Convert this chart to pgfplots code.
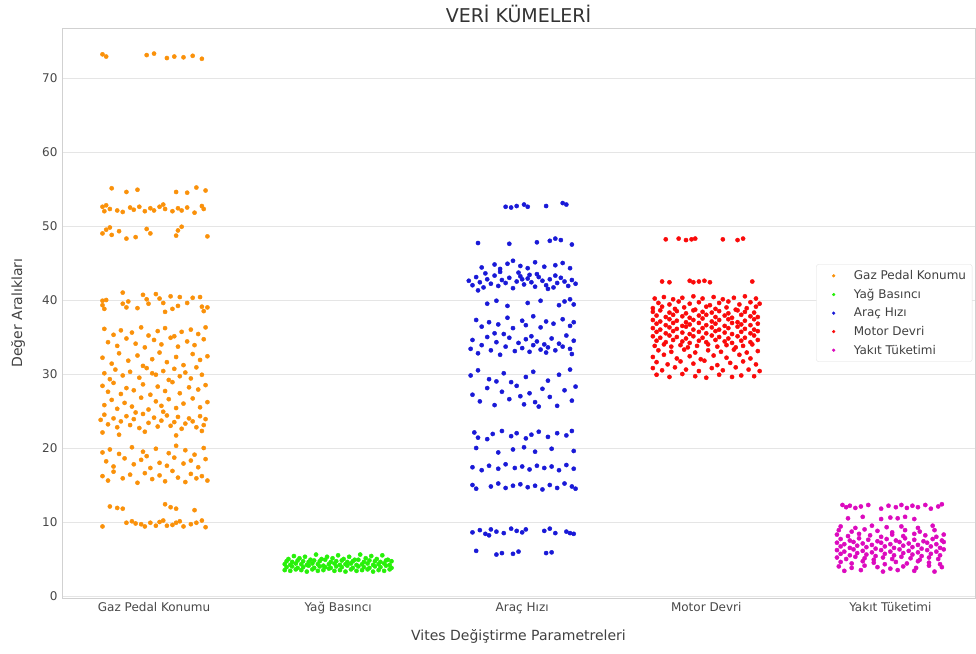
\documentclass[border=0pt]{standalone}
\usepackage{fontspec}
\setmainfont{DejaVu Sans}
\usepackage{pgfplots}
\pgfplotsset{compat=1.18}
\definecolor{cGaz}{RGB}{250,145,10}
\definecolor{cYag}{RGB}{40,240,10}
\definecolor{cArac}{RGB}{25,25,215}
\definecolor{cMotor}{RGB}{250,10,10}
\definecolor{cYakit}{RGB}{220,10,190}
\begin{document}
\begin{tikzpicture}
\begin{axis}[
  set layers=standard,
  scale only axis, width=913pt, height=570pt,
  at={(0pt,0pt)}, anchor=south west,
  xmin=-0.5, xmax=4.46, ymin=-0.27, ymax=76.76,
  xtick={0,1,2,3,4},
  xticklabels={Gaz Pedal Konumu, Yağ Basıncı, Araç Hızı, Motor Devri, Yakıt Tüketimi},
  ytick={0,10,20,30,40,50,60,70},
  ymajorgrids, xmajorgrids=false,
  grid style={draw=black!10, line width=0.8pt},
  axis line style={draw=black!18, line width=0.8pt},
  major tick length=0pt,
  /pgf/number format/assume math mode=true,
  tick label style={font=\fontsize{12}{14}\selectfont, text=black!72},
  xticklabel style={yshift=-1pt},
  yticklabel style={xshift=-1pt},
  xlabel={Vites Değiştirme Parametreleri},
  ylabel={Değer Aralıkları},
  every axis x label/.style={at={(axis description cs:0.5,-0.0667)}, anchor=center, font=\fontsize{14}{16}\selectfont, text=black!75},
  every axis y label/.style={at={(axis description cs:-0.0482,0.5)}, anchor=center, rotate=90, font=\fontsize{14}{16}\selectfont, text=black!75},
  title={VERİ KÜMELERİ},
  title style={at={(axis description cs:0.5,1.0145)}, anchor=center, font=\fontsize{19}{22}\selectfont, text=black!80},
  legend style={at={(0.997,0.5)}, anchor=east, draw=black!12, rounded corners=2pt,
    font=\fontsize{12}{14}\selectfont, text=black!75, fill=white,
    row sep=4pt, inner sep=4pt, cells={anchor=west}},
  legend image code/.code={\path (0pt,0pt) (31pt,0pt); \fill[#1] (13pt,0pt) circle (1.4pt);},
]
% Gaz Pedal Konumu
\addplot[only marks, mark=*, mark size=2.1pt, color=cGaz, fill=cGaz] coordinates {
(-0.28,73.2)(-0.26,72.9)(-0.04,73.1)(0.0,73.3)(0.07,72.7)(0.11,72.9)(0.16,72.8)(0.21,73.0)(0.26,72.6)
(-0.23,55.1)(-0.15,54.6)(-0.09,54.9)(0.12,54.6)(0.18,54.5)(0.23,55.2)(0.28,54.8)
(-0.28,52.6)(-0.27,52.0)(-0.24,52.3)(-0.20,52.1)(-0.17,51.9)(-0.13,52.5)(-0.11,52.2)(-0.08,52.6)(-0.05,52.0)(-0.02,52.4)(0.0,52.1)(0.03,52.6)(0.06,52.3)(0.10,52.0)(0.13,52.4)(0.15,52.1)(0.18,52.5)(0.22,51.8)(0.26,52.7)(0.27,52.3)(-0.26,52.8)(0.05,52.9)
(-0.28,49.0)(-0.26,49.5)(-0.23,48.8)(-0.19,49.3)(-0.15,48.3)(-0.10,48.5)(-0.04,49.6)(-0.02,49.0)(0.12,48.7)(0.13,49.4)(0.15,49.9)(0.29,48.6)(-0.24,49.8)
(-0.28,39.9)(-0.28,39.3)(-0.27,38.8)(-0.26,40.0)(-0.17,41.0)(-0.17,39.5)(-0.15,39.0)(-0.14,39.8)(-0.09,38.9)(-0.04,40.1)(-0.03,39.5)(0.01,40.8)(0.03,40.2)(0.05,39.6)(0.06,38.4)(0.09,40.5)(0.13,39.2)(0.14,40.4)(0.18,39.6)(0.21,40.3)(0.25,40.4)(0.26,39.1)(0.27,38.5)(0.29,39.0)(-0.06,40.7)(0.10,38.8)
(-0.27,36.1)(-0.22,35.3)(-0.18,35.9)(-0.12,35.6)(-0.07,36.3)(-0.03,35.2)(0.02,35.8)(0.06,36.2)(0.11,35.1)(0.15,35.7)(0.20,36.0)(0.24,35.4)(0.28,36.3)
(-0.25,34.3)(-0.20,33.8)(-0.15,34.8)(-0.10,34.1)(-0.05,33.6)(0.00,34.6)(0.04,34.0)(0.09,34.9)(0.13,33.7)(0.18,34.4)(0.22,33.9)(0.27,34.7)
(-0.28,32.2)(-0.23,31.4)(-0.19,32.8)(-0.14,31.8)(-0.09,32.5)(-0.06,31.1)(-0.01,32.0)(0.03,32.9)(0.07,31.6)(0.12,32.3)(0.16,31.2)(0.21,32.7)(0.25,31.9)(0.29,32.4)
(-0.27,30.1)(-0.24,29.3)(-0.21,30.6)(-0.17,29.8)(-0.13,30.3)(-0.08,29.5)(-0.04,30.8)(0.01,29.9)(0.05,30.4)(0.08,29.2)(0.11,30.7)(0.14,29.7)(0.17,30.2)(0.20,29.4)(0.23,30.9)(0.26,29.9)(-0.01,30.1)
(-0.28,28.4)(-0.25,27.6)(-0.22,28.8)(-0.18,27.3)(-0.15,28.1)(-0.11,27.8)(-0.06,28.6)(-0.02,27.2)(0.02,28.3)(0.06,27.7)(0.10,28.9)(0.14,27.4)(0.19,28.2)(0.24,27.9)(0.28,28.5)
(-0.27,25.8)(-0.23,26.5)(-0.20,25.3)(-0.16,26.1)(-0.12,25.6)(-0.07,26.8)(-0.03,25.2)(0.01,26.3)(0.04,25.7)(0.08,26.6)(0.12,25.4)(0.16,26.0)(0.21,26.7)(0.25,25.5)(0.29,26.2)
(-0.29,23.8)(-0.27,24.5)(-0.25,23.2)(-0.22,24.0)(-0.20,22.8)(-0.18,23.6)(-0.15,24.3)(-0.13,23.1)(-0.11,23.9)(-0.08,22.7)(-0.06,24.6)(-0.03,23.4)(0.00,24.1)(0.02,22.9)(0.04,23.7)(0.07,24.4)(0.09,23.0)(0.11,23.5)(0.13,24.2)(0.15,22.6)(0.17,23.3)(0.19,24.0)(0.21,23.6)(0.23,22.8)(0.25,24.3)(0.27,23.1)(0.28,23.9)(-0.10,24.8)(0.05,24.9)
(-0.28,22.1)(-0.19,21.8)(-0.05,22.2)(0.12,21.7)(0.26,22.3)
(-0.24,19.8)(-0.19,19.2)(-0.12,20.1)(-0.06,19.5)(0.01,19.9)(0.08,19.3)(0.12,20.3)(0.17,19.7)(0.22,19.1)(0.27,20.0)(-0.28,19.4)
(-0.26,18.2)(-0.22,17.5)(-0.16,18.6)(-0.11,17.8)(-0.07,18.4)(-0.02,17.3)(0.03,18.0)(0.07,17.6)(0.11,18.7)(0.16,17.9)(0.20,18.3)(0.24,17.4)(0.28,18.5)(-0.04,18.9)
(-0.28,16.2)(-0.25,15.6)(-0.22,16.8)(-0.17,15.9)(-0.13,16.4)(-0.09,15.3)(-0.05,16.6)(-0.01,15.8)(0.03,16.3)(0.06,15.5)(0.10,16.9)(0.13,16.0)(0.17,15.4)(0.20,16.5)(0.23,15.9)(0.26,16.2)(0.29,15.6)
(-0.24,12.1)(-0.20,11.9)(-0.17,11.8)(0.06,12.4)(0.09,12.0)(0.12,11.8)(0.22,11.6)
(-0.28,9.4)(-0.12,10.1)(-0.10,9.8)(-0.07,9.7)(-0.05,9.4)(-0.02,9.9)(0.01,9.5)(0.03,10.0)(0.05,10.2)(0.10,9.6)(0.12,9.9)(0.14,10.1)(0.16,9.4)(0.20,9.7)(0.23,9.9)(0.26,10.2)(0.28,9.3)(-0.15,9.9)(0.07,9.5)
};
\addlegendentry{Gaz Pedal Konumu}
% Yag Basinci
\addplot[only marks, mark=*, mark size=2.1pt, color=cYag, fill=cYag] coordinates {
(0.71,3.5)(0.74,3.4)(0.77,3.6)(0.80,3.5)(0.83,3.3)(0.86,3.6)(0.89,3.4)(0.92,3.5)(0.95,3.7)(0.98,3.4)(1.01,3.5)(1.04,3.3)(1.07,3.6)(1.10,3.4)(1.13,3.5)(1.16,3.6)(1.19,3.3)(1.22,3.5)(1.25,3.4)(1.28,3.6)
(0.72,3.9)(0.75,4.0)(0.78,3.8)(0.81,3.9)(0.84,4.1)(0.87,3.8)(0.90,4.0)(0.93,3.9)(0.96,3.8)(0.99,4.0)(1.02,3.9)(1.05,4.1)(1.08,3.8)(1.11,4.0)(1.14,3.9)(1.17,3.8)(1.20,4.0)(1.23,3.9)(1.26,4.1)(1.29,3.8)
(0.71,4.3)(0.74,4.2)(0.77,4.4)(0.80,4.3)(0.83,4.2)(0.86,4.4)(0.89,4.3)(0.92,4.1)(0.95,4.3)(0.98,4.4)(1.01,4.2)(1.04,4.3)(1.07,4.4)(1.10,4.2)(1.13,4.3)(1.16,4.4)(1.19,4.2)(1.22,4.3)(1.25,4.4)(1.28,4.2)
(0.72,4.7)(0.75,4.6)(0.78,4.8)(0.81,4.7)(0.84,4.6)(0.87,4.8)(0.90,4.7)(0.93,4.9)(0.96,4.6)(0.99,4.7)(1.02,4.8)(1.05,4.6)(1.08,4.7)(1.11,4.9)(1.14,4.6)(1.17,4.8)(1.20,4.7)(1.23,4.6)(1.26,4.8)(1.29,4.7)
(0.73,5.0)(0.79,5.1)(0.85,4.9)(0.91,5.0)(0.97,5.1)(1.03,5.0)(1.09,4.9)(1.15,5.1)(1.21,5.0)(1.27,4.9)
(0.76,5.4)(0.88,5.6)(0.94,5.3)(1.00,5.5)(1.06,5.3)(1.12,5.6)(1.18,5.4)(1.24,5.5)(0.82,5.3)
};
\addlegendentry{Yağ Basıncı}
% Arac Hizi
\addplot[only marks, mark=*, mark size=2.1pt, color=cArac, fill=cArac] coordinates {
(1.91,52.6)(1.94,52.5)(1.97,52.7)(2.01,52.9)(2.03,52.6)(2.13,52.7)(2.22,53.1)(2.24,52.9)
(1.76,47.7)(1.93,47.6)(2.08,47.8)(2.15,48.0)(2.18,48.3)(2.21,48.1)(2.27,47.5)
(1.78,44.4)(1.85,44.8)(1.88,44.2)(1.92,44.9)(1.95,45.3)(1.99,44.6)(2.03,44.3)(2.07,45.1)(2.12,44.5)(2.18,44.7)(2.22,45.0)(2.26,44.3)
(1.71,42.6)(1.73,42.0)(1.75,43.1)(1.77,42.4)(1.79,41.7)(1.81,42.8)(1.83,42.2)(1.85,43.3)(1.87,41.9)(1.89,42.7)(1.91,42.3)(1.93,43.0)(1.95,41.6)(1.97,42.5)(1.99,43.2)(2.01,42.1)(2.03,42.9)(2.05,42.4)(2.07,41.8)(2.09,43.1)(2.11,42.6)(2.13,42.0)(2.15,42.8)(2.17,41.7)(2.19,42.3)(2.21,43.0)(2.23,42.5)(2.25,41.9)(2.27,42.7)(2.29,42.2)(1.80,43.6)(1.98,43.7)(2.08,43.5)(2.14,41.5)(1.76,41.3)(2.00,42.8)(2.04,43.4)(1.88,43.8)(2.18,43.3)
(1.81,39.5)(1.86,39.9)(1.92,39.2)(2.03,39.6)(2.10,39.9)(2.20,39.3)(2.23,39.8)(2.26,40.1)(2.28,39.4)
(1.75,37.3)(1.78,36.4)(1.82,37.0)(1.87,36.7)(1.92,37.6)(1.95,36.2)(2.00,37.2)(2.02,36.6)(2.06,37.8)(2.10,36.3)(2.13,37.1)(2.17,36.8)(2.22,37.4)(2.26,36.5)(2.28,37.0)
(1.72,33.4)(1.73,34.6)(1.76,32.8)(1.78,33.9)(1.81,35.0)(1.83,33.2)(1.86,34.3)(1.88,32.6)(1.91,33.7)(1.93,34.9)(1.96,33.1)(1.98,34.2)(2.00,33.5)(2.02,34.7)(2.04,33.0)(2.06,33.9)(2.08,34.4)(2.10,33.3)(2.12,34.0)(2.14,33.6)(2.16,34.8)(2.18,33.2)(2.20,34.1)(2.22,33.7)(2.24,35.2)(2.26,33.4)(2.28,34.5)(1.90,35.4)(2.05,35.1)(2.13,32.9)(1.85,35.5)(2.27,32.7)
(1.72,29.8)(1.76,30.5)(1.82,29.3)(1.90,30.1)(1.94,28.9)(2.02,29.6)(2.06,30.3)(2.14,29.1)(2.20,29.9)(2.26,30.6)(1.86,29.0)
(1.73,27.2)(1.77,26.3)(1.81,28.1)(1.85,25.8)(1.89,27.6)(1.93,26.6)(1.97,28.4)(2.01,25.9)(2.04,27.4)(2.07,26.2)(2.11,28.0)(2.15,26.9)(2.19,25.7)(2.23,27.8)(2.27,26.4)(2.29,28.3)(1.99,27.0)(2.09,25.6)
(1.74,22.1)(1.76,21.4)(1.84,21.9)(1.89,22.3)(1.94,21.6)(1.97,22.0)(2.02,21.3)(2.05,21.8)(2.09,22.2)(2.14,21.5)(2.19,22.0)(2.24,21.7)(2.27,22.3)(1.81,21.2)
(1.75,20.0)(1.87,19.4)(1.95,19.8)(2.01,20.1)(2.07,19.5)(2.16,19.9)(2.28,19.6)
(1.73,17.4)(1.78,17.0)(1.82,17.6)(1.87,17.2)(1.91,17.8)(1.96,17.3)(2.00,17.5)(2.04,17.1)(2.08,17.6)(2.12,17.3)(2.16,17.5)(2.20,17.0)(2.24,17.7)(2.28,17.2)
(1.73,15.0)(1.75,14.5)(1.83,14.8)(1.87,15.2)(1.91,14.6)(1.95,14.9)(1.99,15.1)(2.03,14.7)(2.07,14.9)(2.11,14.4)(2.15,15.0)(2.19,14.6)(2.23,15.2)(2.27,14.8)(2.29,14.5)
(1.73,8.6)(1.77,8.9)(1.80,8.4)(1.83,9.0)(1.86,8.7)(1.90,8.5)(1.94,9.1)(1.97,8.8)(2.00,8.6)(2.02,9.0)(2.12,8.8)(2.15,9.1)(2.18,8.5)(2.24,8.7)(2.26,8.5)(2.28,8.4)(1.82,8.2)
(1.75,6.1)(1.86,5.6)(1.89,5.8)(1.95,5.7)(1.98,6.0)(2.13,5.8)(2.16,5.9)
};
\addlegendentry{Araç Hızı}
% Motor Devri
\addplot[only marks, mark=*, mark size=2.1pt, color=cMotor, fill=cMotor] coordinates {
(2.78,48.2)(2.85,48.3)(2.89,48.1)(2.92,48.2)(2.94,48.3)(3.09,48.2)(3.17,48.1)(3.20,48.3)
(2.76,42.5)(2.80,42.4)(2.91,42.6)(2.93,42.4)(2.96,42.5)(2.99,42.6)(3.02,42.4)(3.25,42.5)
(2.72,40.2)(2.77,40.4)(2.82,40.1)(2.87,40.3)(2.93,40.5)(2.98,40.2)(3.04,40.4)(3.09,40.1)(3.15,40.3)(3.21,40.5)(3.27,40.2)
(2.74,39.6)(2.80,39.4)(2.85,39.8)(2.91,39.5)(2.96,39.7)(3.02,39.3)(3.07,39.6)(3.12,39.8)(3.18,39.4)(3.24,39.7)(3.29,39.5)
(2.71,38.9)(2.76,39.1)(2.83,38.8)(2.88,39.0)(2.94,38.7)(3.00,39.1)(3.05,38.8)(3.11,39.0)(3.16,38.7)(3.22,38.9)(3.27,39.1)
(2.71,38.4)(2.75,38.6)(2.80,38.3)(2.84,38.5)(2.89,38.2)(2.93,38.6)(2.98,38.4)(3.03,38.3)(3.07,38.5)(3.12,38.2)(3.17,38.6)(3.21,38.4)(3.26,38.3)
(2.73,37.9)(2.78,37.7)(2.82,38.0)(2.87,37.8)(2.91,37.6)(2.96,37.9)(3.00,38.0)(3.05,37.7)(3.10,37.9)(3.14,37.6)(3.19,38.0)(3.24,37.8)(3.28,37.7)
(2.71,37.3)(2.75,37.1)(2.80,37.4)(2.84,37.2)(2.89,37.0)(2.93,37.3)(2.98,37.5)(3.03,37.1)(3.07,37.3)(3.12,37.4)(3.17,37.0)(3.21,37.2)(3.26,37.4)
(2.73,36.8)(2.78,36.6)(2.82,36.9)(2.87,36.5)(2.91,36.7)(2.96,36.9)(3.00,36.6)(3.05,36.8)(3.10,36.5)(3.14,36.9)(3.19,36.7)(3.24,36.6)(3.28,36.8)
(2.71,36.2)(2.75,36.0)(2.80,36.3)(2.84,36.1)(2.89,36.4)(2.93,36.0)(2.98,36.2)(3.03,36.3)(3.07,36.0)(3.12,36.2)(3.17,36.4)(3.21,36.1)(3.26,36.0)
(2.73,35.7)(2.78,35.5)(2.82,35.8)(2.87,35.6)(2.91,35.4)(2.96,35.7)(3.00,35.5)(3.05,35.8)(3.10,35.6)(3.14,35.4)(3.19,35.7)(3.24,35.5)(3.28,35.8)
(2.71,35.1)(2.75,34.9)(2.80,35.2)(2.84,35.0)(2.89,34.8)(2.93,35.1)(2.98,34.9)(3.03,35.2)(3.07,35.0)(3.12,34.8)(3.17,35.1)(3.21,34.9)(3.26,35.2)
(2.73,34.5)(2.78,34.3)(2.82,34.6)(2.87,34.4)(2.91,34.2)(2.96,34.5)(3.00,34.3)(3.05,34.6)(3.10,34.4)(3.14,34.2)(3.19,34.5)(3.24,34.3)(3.28,34.6)
(2.72,33.8)(2.77,34.0)(2.81,33.7)(2.86,33.9)(2.90,33.6)(2.95,33.8)(3.01,34.0)(3.06,33.7)(3.11,33.9)(3.16,33.6)(3.20,33.8)(3.25,34.0)
(2.74,33.2)(2.81,33.0)(2.88,33.3)(2.94,32.9)(3.01,33.2)(3.08,33.0)(3.15,33.3)(3.22,32.9)(3.28,33.1)
(2.71,32.3)(2.77,32.6)(2.84,32.1)(2.91,32.4)(2.97,32.0)(3.04,32.5)(3.11,32.2)(3.18,32.6)(3.24,32.1)
(2.73,31.6)(2.79,31.3)(2.86,31.7)(2.93,31.4)(2.99,31.8)(3.06,31.2)(3.13,31.5)(3.20,31.7)(3.27,31.3)
(2.71,30.8)(2.76,30.5)(2.83,30.9)(2.89,30.6)(2.96,30.4)(3.03,30.8)(3.09,30.5)(3.16,30.9)(3.23,30.6)(3.29,30.4)
(2.73,29.9)(2.80,29.6)(2.87,30.0)(2.94,29.7)(3.00,29.5)(3.07,29.9)(3.14,29.6)(3.19,29.8)(3.26,29.7)
};
\addlegendentry{Motor Devri}
% Yakit Tuketimi
\addplot[only marks, mark=*, mark size=2.1pt, color=cYakit, fill=cYakit] coordinates {
(3.74,12.3)(3.76,12.0)(3.78,12.2)(3.81,11.9)(3.84,12.1)(3.88,12.3)(3.95,11.8)(3.99,12.2)(4.03,12.0)(4.06,12.3)(4.09,11.9)(4.12,12.2)(4.15,12.0)(4.19,12.3)(4.22,11.8)(4.26,12.1)(4.28,12.4)
(3.77,10.5)(3.85,10.7)(3.95,10.4)(4.00,10.6)(4.04,10.5)(4.08,10.7)(4.13,10.4)
(3.73,9.4)(3.81,9.2)(3.90,9.5)(3.98,9.3)(4.06,9.4)(4.15,9.2)(4.23,9.5)
(3.72,8.9)(3.79,8.7)(3.86,9.0)(3.93,8.8)(4.01,8.6)(4.08,8.9)(4.16,8.7)(4.24,8.9)
(3.71,8.3)(3.77,8.1)(3.83,8.4)(3.89,8.2)(3.95,8.0)(4.01,8.3)(4.07,8.1)(4.13,8.4)(4.19,8.2)(4.25,8.0)(4.29,8.3)
(3.73,7.7)(3.78,7.5)(3.83,7.8)(3.88,7.6)(3.93,7.4)(3.98,7.7)(4.03,7.5)(4.08,7.8)(4.13,7.6)(4.18,7.4)(4.23,7.7)(4.28,7.5)
(3.71,7.2)(3.75,7.0)(3.80,7.3)(3.85,7.1)(3.90,6.9)(3.95,7.2)(4.00,7.0)(4.05,7.3)(4.10,7.1)(4.15,6.9)(4.20,7.2)(4.25,7.0)(4.29,7.3)
(3.73,6.7)(3.78,6.5)(3.82,6.8)(3.87,6.6)(3.92,6.4)(3.97,6.7)(4.02,6.5)(4.07,6.8)(4.12,6.6)(4.17,6.4)(4.22,6.7)(4.27,6.5)
(3.71,6.2)(3.75,6.0)(3.80,6.3)(3.85,6.1)(3.90,5.9)(3.95,6.2)(4.00,6.0)(4.05,6.3)(4.10,6.1)(4.15,5.9)(4.20,6.2)(4.25,6.0)(4.29,6.3)
(3.73,5.7)(3.78,5.5)(3.82,5.8)(3.87,5.6)(3.92,5.4)(3.97,5.7)(4.02,5.5)(4.07,5.8)(4.12,5.6)(4.17,5.4)(4.22,5.7)(4.27,5.5)
(3.71,5.2)(3.76,5.0)(3.81,5.3)(3.86,5.1)(3.91,4.9)(3.96,5.2)(4.01,5.0)(4.06,5.3)(4.11,5.1)(4.16,4.9)(4.21,5.2)(4.26,5.0)
(3.73,4.6)(3.79,4.4)(3.85,4.7)(3.91,4.5)(3.97,4.3)(4.03,4.6)(4.09,4.4)(4.15,4.7)(4.21,4.5)(4.27,4.3)
(3.72,4.0)(3.79,3.8)(3.86,4.1)(3.93,3.9)(4.00,3.7)(4.07,4.0)(4.14,3.8)(4.21,4.1)(4.28,3.9)
(3.75,3.4)(3.84,3.5)(3.96,3.3)(4.04,3.5)(4.13,3.4)(4.24,3.3)
};
\addlegendentry{Yakıt Tüketimi}
\end{axis}
\pgfresetboundingbox
\useasboundingbox (-62pt,-55pt) rectangle (914pt,598pt);
\end{tikzpicture}
\end{document}
